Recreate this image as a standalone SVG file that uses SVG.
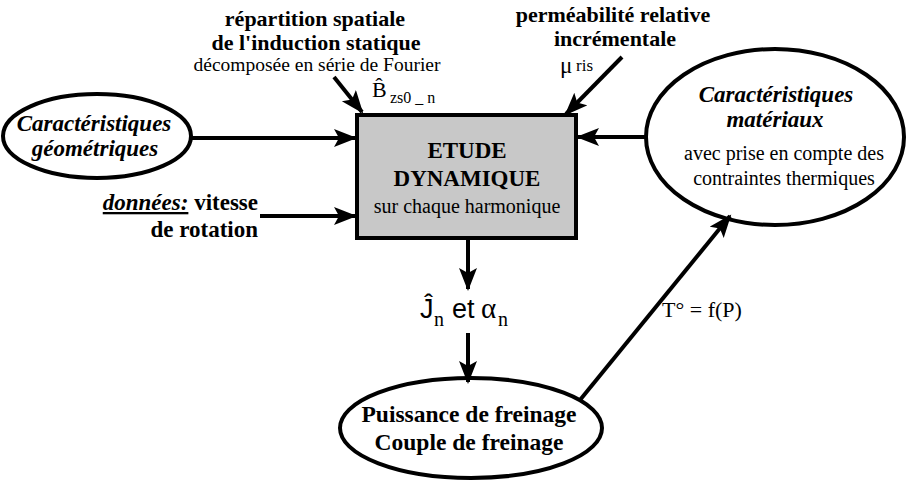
<svg xmlns="http://www.w3.org/2000/svg" width="906" height="481" viewBox="0 0 906 481">
<style>
.b{font-family:"Liberation Serif","Tinos","Times New Roman","DejaVu Serif",serif;font-weight:bold;fill:#000}
.r{font-family:"Liberation Serif","Tinos","Times New Roman","DejaVu Serif",serif;fill:#000}
.bi{font-family:"Liberation Serif","Tinos","Times New Roman","DejaVu Serif",serif;font-weight:bold;font-style:italic;fill:#000}
.s{font-family:"Liberation Sans",Arial,sans-serif;fill:#000}
.node{fill:#fff;stroke:#000;stroke-width:4}
.edge{stroke:#000;stroke-width:4;fill:none;marker-end:url(#ah)}
</style>
<defs>
<marker id="ah" markerUnits="userSpaceOnUse" markerWidth="26" markerHeight="20" refX="21" refY="9" orient="auto">
<path d="M0,0 L23,9 L0,18 L5,9 z" fill="#000"/>
</marker>
</defs>
<rect width="906" height="481" fill="#fff"/>
<g id="geo">
<ellipse class="node" cx="97" cy="136" rx="94" ry="42"/>
<text class="bi" x="94" y="131" font-size="23" text-anchor="middle">Caractéristiques</text>
<text class="bi" x="95" y="156" font-size="23" text-anchor="middle">géométriques</text>
</g>
<g id="etude">
<rect x="357" y="115" width="219" height="123" fill="#c8c8c8" stroke="#000" stroke-width="4"/>
<text class="b" x="467" y="158" font-size="23" text-anchor="middle">ETUDE</text>
<text class="b" x="467" y="186" font-size="23" text-anchor="middle">DYNAMIQUE</text>
<text class="r" x="467" y="213" font-size="20" text-anchor="middle">sur chaque harmonique</text>
</g>
<g id="mat">
<ellipse class="node" cx="775" cy="137" rx="129" ry="88"/>
<text class="bi" x="776" y="102" font-size="23" text-anchor="middle">Caractéristiques</text>
<text class="bi" x="775" y="127" font-size="23" text-anchor="middle">matériaux</text>
<text class="r" x="784" y="160" font-size="20" text-anchor="middle">avec prise en compte des</text>
<text class="r" x="784" y="185" font-size="20" text-anchor="middle">contraintes thermiques</text>
</g>
<g id="puissance">
<ellipse class="node" cx="471" cy="428" rx="131" ry="50"/>
<text class="b" x="469" y="422" font-size="23.5" text-anchor="middle">Puissance de freinage</text>
<text class="b" x="469" y="450" font-size="23.5" text-anchor="middle">Couple de freinage</text>
</g>
<g id="labels">
<text class="b" x="315" y="26" font-size="22" text-anchor="middle">répartition spatiale</text>
<text class="b" x="316" y="50" font-size="22" text-anchor="middle">de l'induction statique</text>
<text class="r" x="317" y="71" font-size="19.5" text-anchor="middle">décomposée en série de Fourier</text>
<text class="r" x="372" y="97" font-size="22">B̂</text>
<text class="r" x="390" y="103" font-size="16">zs0 _ n</text>
<text class="b" x="613" y="22" font-size="22" text-anchor="middle">perméabilité relative</text>
<text class="b" x="615" y="46" font-size="22" text-anchor="middle">incrémentale</text>
<text class="r" x="560" y="73" font-size="23">μ</text>
<text class="r" x="576" y="71" font-size="17">ris</text>
<text x="258" y="210" font-size="23" text-anchor="end"><tspan class="bi" font-weight="normal" text-decoration="underline">données:</tspan><tspan class="b"> vitesse</tspan></text>
<text class="b" x="258" y="237" font-size="23" text-anchor="end">de rotation</text>
<text class="s" x="420" y="318" font-size="27">Ĵ</text>
<text class="r" x="434" y="326" font-size="20">n</text>
<text class="s" x="452" y="318" font-size="27">et</text>
<text class="r" x="481" y="318" font-size="29">α</text>
<text class="r" x="498" y="326" font-size="20">n</text>
<text class="r" x="662" y="317" font-size="22">T° = f(P)</text>
</g>
<g id="connectors">
<line class="edge" x1="191" y1="138" x2="355" y2="138"/>
<line class="edge" x1="260" y1="216" x2="355" y2="216"/>
<line class="edge" x1="334" y1="77" x2="362" y2="112"/>
<line class="edge" x1="622" y1="57" x2="566" y2="114"/>
<line class="edge" x1="646" y1="137" x2="578" y2="137"/>
<line class="edge" x1="468" y1="240" x2="468" y2="289"/>
<line class="edge" x1="468" y1="333" x2="468" y2="382"/>
<line class="edge" x1="580" y1="400" x2="730" y2="216"/>
</g>
</svg>
